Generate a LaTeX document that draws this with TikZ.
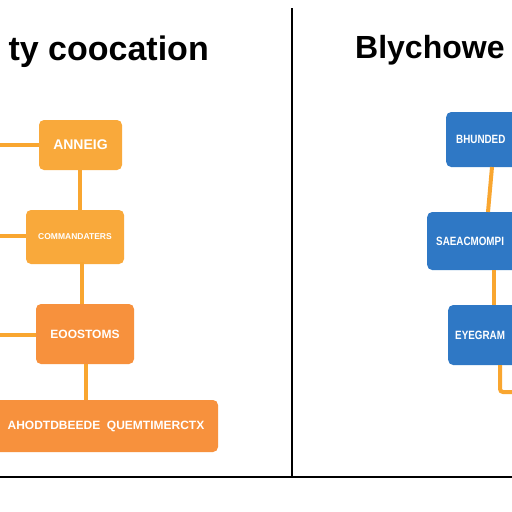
\documentclass[tikz,border=0pt]{standalone}
\usepackage{fontspec}
\setmainfont{Liberation Sans}
\definecolor{olight}{HTML}{F9A93B}
\definecolor{odark}{HTML}{F7913D}
\definecolor{oline}{HTML}{F9A630}
\definecolor{bbox}{HTML}{2F78C5}
\tikzset{
  obox/.style={fill=olight, rounded corners=5pt, inner sep=0pt, text=white, font=\bfseries},
  odbox/.style={fill=odark, rounded corners=5pt, inner sep=0pt, text=white, font=\bfseries},
  bluebox/.style={fill=bbox, rounded corners=5pt, inner sep=0pt, text=white, font=\bfseries\fontsize{12}{12}\selectfont, anchor=west},
  conn/.style={draw=oline, line width=4pt},
  title/.style={font=\bfseries\fontsize{34}{36}\selectfont, inner sep=0pt},
  divider/.style={draw=black, line width=2.5pt}
}
\begin{document}
\begin{tikzpicture}[x=1pt,y=-1pt]
\useasboundingbox[fill=white] (0,0) rectangle (512,512);
% dividers
\coordinate (dt) at (292,8);
\coordinate (db) at (292,477);
\coordinate (hl) at (0,477);
\coordinate (hr) at (512,477);
\draw[divider] (dt) -- (db);
\draw[divider] (hl) -- (hr);
% titles
\node[title, anchor=base east] (tl) at (209,60) {ty coocation};
\node[title, anchor=base west, font=\bfseries\fontsize{32}{34}\selectfont] (tr) at (355,58) {Blychowe};
% left boxes
\node[obox, minimum width=83pt, minimum height=50pt, font=\bfseries\fontsize{14}{14}\selectfont] (a1) at (80.5,145) {ANNEIG};
\node[obox, minimum width=98pt, minimum height=54pt, font=\bfseries\fontsize{8.5}{9}\selectfont] (a2) at (75,237) {COMMANDATERS};
\node[odbox, minimum width=98pt, minimum height=60pt, font=\bfseries\fontsize{12}{12}\selectfont] (a3) at (85,334) {EOOSTOMS};
\node[odbox, minimum width=224pt, minimum height=52pt, font=\bfseries\fontsize{12}{12}\selectfont] (a4) at (106,426) {AHODTDBEEDE\ \ QUEMTIMERCTX};
% left connectors
\coordinate (l1) at (0,145);
\coordinate (l2) at (0,236);
\coordinate (l3) at (0,335);
\draw[conn] (l1) -- (a1.west |- l1);
\draw[conn] (l2) -- (a2.west |- l2);
\draw[conn] (l3) -- (a3.west |- l3);
\draw[conn] (80,170) -- (80,210);
\draw[conn] (82,262) -- (82,304);
\draw[conn] (86,364) -- (86,400);
% right boxes
\node[bluebox, minimum width=80pt, minimum height=55pt] (b1) at (446,139.5) {\makebox[80pt][l]{\hspace{10pt}\scalebox{0.82}[1]{BHUNDED}}};
\node[bluebox, minimum width=95pt, minimum height=58pt] (b2) at (427,241) {\makebox[95pt][l]{\hspace{9pt}\scalebox{0.82}[1]{SAEACMOMPI}}};
\node[bluebox, minimum width=80pt, minimum height=60pt] (b3) at (448,335) {\makebox[80pt][l]{\hspace{7pt}\scalebox{0.82}[1]{EYEGRAM}}};
% right connectors
\coordinate (r3) at (512,392);
\draw[conn] (492,167) -- (488,212);
\draw[conn] (494,270) -- (494,305);
\draw[conn, rounded corners=3pt] (500,365) -- (500,392) -- (r3);
\end{tikzpicture}
\end{document}
